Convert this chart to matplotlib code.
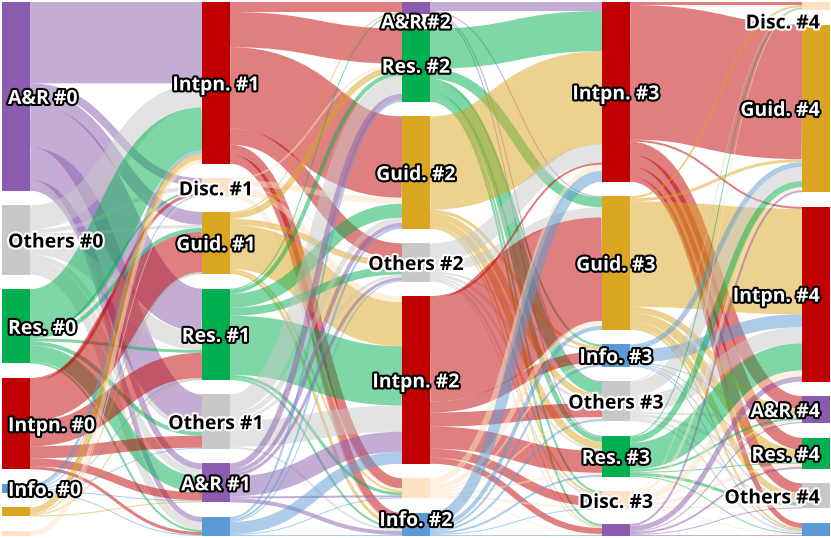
import matplotlib
matplotlib.use("Agg")
import matplotlib.pyplot as plt
from matplotlib.path import Path
from matplotlib.patches import PathPatch, Rectangle
import matplotlib.patheffects as pe

# ---------------- data ----------------
categories = ["A&R", "Others", "Res.", "Intpn.", "Info.", "Guid.", "Disc."]
cat_colors = ["#8b5cad", "#c8c8c8", "#00b050", "#c00000", "#5b9bd5", "#daa520", "#fde2c3"]
light_cats = ["Others", "Disc."]

# node order (top to bottom) in each step column
order0 = ["A&R", "Others", "Res.", "Intpn.", "Info.", "Guid.", "Disc."]
order1 = ["Intpn.", "Disc.", "Guid.", "Res.", "Others", "A&R", "Info."]
order2 = ["A&R", "Res.", "Guid.", "Others", "Intpn.", "Disc.", "Info."]
order3 = ["Intpn.", "Guid.", "Info.", "Others", "Res.", "Disc.", "A&R"]
order4 = ["Disc.", "Guid.", "Intpn.", "A&R", "Res.", "Others", "Info."]

# nodes whose label is not shown
hidden0 = ["Guid.", "Disc."]
hidden1 = ["Info."]
hidden2 = ["Disc."]
hidden3 = ["A&R"]
hidden4 = ["Info."]

# flows: rows = source column order, cols = target column order
flows01 = [
    [81, 8, 13, 43, 32, 6, 5],
    [24, 4, 3, 18, 5, 7, 8],
    [43, 2, 4, 3, 4, 16, 2],
    [0, 3, 40, 25, 12, 8, 3],
    [3, 1, 1, 1, 1, 1, 1],
    [6, 0, 1, 1, 0, 1, 0],
    [4, 1, 0, 0, 0, 0, 0],
]
flows12 = [
    [10, 35, 81, 16, 0, 10, 9],
    [0, 2, 6, 1, 6, 2, 2],
    [1, 6, 0, 6, 44, 2, 3],
    [1, 4, 14, 8, 59, 3, 2],
    [0, 18, 5, 3, 26, 0, 2],
    [0, 6, 4, 3, 20, 2, 4],
    [0, 2, 2, 1, 12, 1, 1],
]
flows23 = [
    [9, 1, 0, 1, 1, 0, 0],
    [40, 10, 2, 12, 5, 2, 2],
    [93, 0, 3, 6, 7, 2, 1],
    [18, 10, 2, 3, 2, 2, 1],
    [2, 103, 11, 14, 22, 9, 6],
    [6, 5, 2, 2, 2, 2, 1],
    [11, 4, 2, 2, 2, 1, 1],
]
flows34 = [
    [3, 134, 2, 13, 12, 10, 5],
    [2, 3, 105, 6, 9, 6, 2],
    [0, 5, 13, 1, 1, 1, 1],
    [1, 14, 16, 2, 3, 2, 2],
    [1, 6, 27, 2, 1, 3, 1],
    [1, 3, 6, 2, 3, 2, 1],
    [0, 2, 5, 1, 2, 1, 1],
]

orders = [order0, order1, order2, order3, order4]
hiddens = [hidden0, hidden1, hidden2, hidden3, hidden4]
flows = [flows01, flows12, flows23, flows34]
color_of = dict(zip(categories, cat_colors))

# ---------------- layout ----------------
W, H = 831, 538
DPI = 100
fig = plt.figure(figsize=(W / DPI, H / DPI), dpi=DPI)
ax = fig.add_axes([0, 0, 1, 1])
ax.set_xlim(0, W)
ax.set_ylim(H, 0)
ax.axis("off")

ext_l, ext_r, ext_t, ext_b = 2, 830, 2, 536
node_w = 28
pad = 14.5
ncol = len(orders)

nodes = []
for c, order in enumerate(orders):
    col = []
    for k, name in enumerate(order):
        vin = sum(flows[c - 1][r][k] for r in range(len(orders[c - 1]))) if c > 0 else 0
        vout = sum(flows[c][k]) if c < ncol - 1 else 0
        x0 = ext_l + c * (ext_r - ext_l - node_w) / (ncol - 1)
        col.append(dict(name=name, col=c, value=max(vin, vout), x0=x0, x1=x0 + node_w,
                        out=[], inn=[]))
    nodes.append(col)

ky = min((ext_b - ext_t - (len(col) - 1) * pad) / sum(n["value"] for n in col) for col in nodes)
for col in nodes:
    tot = sum(n["value"] for n in col) * ky
    gap = (ext_b - ext_t - tot) / (len(col) - 1)
    y = ext_t
    for n in col:
        n["y0"] = y
        n["y1"] = y + n["value"] * ky
        y = n["y1"] + gap

links = []
for c, mat in enumerate(flows):
    for i, row in enumerate(mat):
        for j, v in enumerate(row):
            if v > 0:
                L = dict(src=nodes[c][i], tgt=nodes[c + 1][j], value=v, w=v * ky)
                links.append(L)
                nodes[c][i]["out"].append(L)
                nodes[c + 1][j]["inn"].append(L)

for col in nodes:
    for n in col:
        n["out"].sort(key=lambda L: L["tgt"]["y0"])
        y = n["y0"]
        for L in n["out"]:
            L["sy"] = y + L["w"] / 2
            y += L["w"]
        n["inn"].sort(key=lambda L: L["src"]["y0"])
        y = n["y0"]
        for L in n["inn"]:
            L["ty"] = y + L["w"] / 2
            y += L["w"]

# ---------------- draw links ----------------
for L in links:
    xs, xt = L["src"]["x1"], L["tgt"]["x0"]
    xm = (xs + xt) / 2
    path = Path([(xs, L["sy"]), (xm, L["sy"]), (xm, L["ty"]), (xt, L["ty"])],
                [Path.MOVETO, Path.CURVE4, Path.CURVE4, Path.CURVE4])
    ax.add_patch(PathPatch(path, fill=False, edgecolor=color_of[L["src"]["name"]],
                           alpha=0.5, lw=max(L["w"], 0.8) * 72 / DPI, capstyle="butt",
                           zorder=1))

# ---------------- draw nodes ----------------
for col in nodes:
    for n in col:
        ax.add_patch(Rectangle((n["x0"], n["y0"]), n["x1"] - n["x0"], n["y1"] - n["y0"],
                               facecolor=color_of[n["name"]], edgecolor="none", zorder=2))

# ---------------- labels ----------------
fs_pt = 14
for c, col in enumerate(nodes):
    for n in col:
        if n["name"] in hiddens[c]:
            continue
        cy = (n["y0"] + n["y1"]) / 2
        cy = min(max(cy, 21), 518.5)
        if c == 0:
            x, ha = n["x0"] + 6, "left"
        elif c == ncol - 1:
            x, ha = n["x1"] - 10, "right"
        else:
            x, ha = (n["x0"] + n["x1"]) / 2, "center"
        if n["name"] in light_cats:
            fc, sc = "black", "white"
        else:
            fc, sc = "white", "black"
        ax.text(x, cy + 7.5, f"{n['name']} #{c}", ha=ha, va="baseline",
                fontsize=fs_pt, fontweight="bold", family=["Open Sans", "DejaVu Sans"],
                color=fc, zorder=3,
                path_effects=[pe.withStroke(linewidth=3.0, foreground=sc)])

fig.savefig("out.png", dpi=DPI)
